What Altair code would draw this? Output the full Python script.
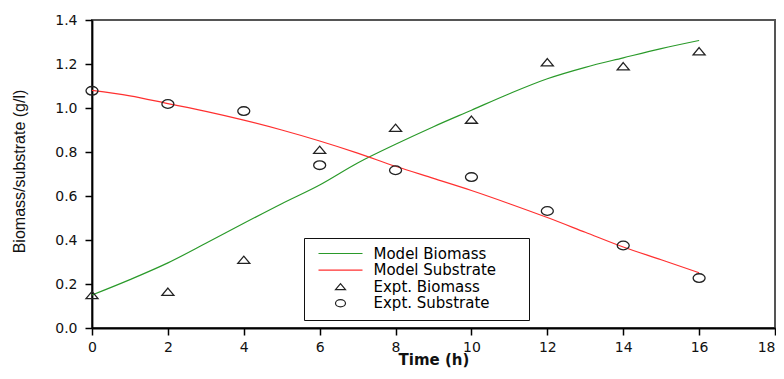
import altair as alt
import pandas as pd

# ---- data ----
t_model = list(range(17))
biomass_model = [0.15, 0.22, 0.296, 0.385, 0.476, 0.565, 0.65, 0.75, 0.835, 0.915,
                 0.99, 1.065, 1.133, 1.185, 1.228, 1.27, 1.307]
substrate_model = [1.08, 1.055, 1.02, 0.985, 0.945, 0.9, 0.85, 0.795, 0.735, 0.68,
                   0.625, 0.565, 0.502, 0.435, 0.368, 0.31, 0.251]

t_expt = [0, 2, 4, 6, 8, 10, 12, 14, 16]
biomass_expt = [0.15, 0.165, 0.31, 0.81, 0.91, 0.947, 1.208, 1.19, 1.258]
substrate_expt = [1.078, 1.018, 0.986, 0.74, 0.717, 0.686, 0.532, 0.375, 0.227]

series_names = ["Model Biomass", "Model Substrate", "Expt. Biomass", "Expt. Substrate"]
x_ticks = [0, 2, 4, 6, 8, 10, 12, 14, 16, 18]
y_ticks = [0.0, 0.2, 0.4, 0.6, 0.8, 1.0, 1.2, 1.4]

model_df = pd.DataFrame({
    "t": t_model + t_model,
    "v": biomass_model + substrate_model,
    "series": [series_names[0]] * len(t_model) + [series_names[1]] * len(t_model),
})
expt_df = pd.DataFrame({
    "t": t_expt + t_expt,
    "v": biomass_expt + substrate_expt,
    "series": [series_names[2]] * len(t_expt) + [series_names[3]] * len(t_expt),
})

colors = ["#2a9a2a", "#ff3030", "#222222", "#222222"]
shapes = [
    "M-4.4,0L4.4,0",
    "M-4.4,0L4.4,0",
    "M0,-0.6L1,0.6L-1,0.6Z",
    "M-1,0A1,0.72,0,1,0,1,0A1,0.72,0,1,0,-1,0Z",
]

color_scale = alt.Scale(domain=series_names, range=colors)
shape_scale = alt.Scale(domain=series_names, range=shapes)

x_enc = alt.X(
    "t:Q",
    scale=alt.Scale(domain=[0, 18], nice=False),
    axis=alt.Axis(
        values=x_ticks, format="d", title="Time (h)", labelFlush=False,
        labelAlign={"condition": {"test": "datum.value == 18", "value": "right"}, "value": "center"},
        titleFont="DejaVu Sans", titleFontSize=15, titleFontWeight="bold",
        titleY=31, titleBaseline="middle", titleColor="#111",
        labelPadding=5,
    ),
)
y_enc = alt.Y(
    "v:Q",
    scale=alt.Scale(domain=[0, 1.4], nice=False),
    axis=alt.Axis(
        values=y_ticks, format=".1f", title="Biomass/substrate (g/l)", labelFlush=False,
        titleFont="Liberation Sans", titleFontSize=16, titleFontWeight="normal",
        titleX=-73, titleY=151, titleAngle=270, titleAlign="center",
        titleBaseline="middle", titleColor="#111",
        labelPadding=8,
    ),
)

legend = alt.Legend(
    title=" ", orient="none", legendX=212, legendY=218,
    padding=8, strokeColor="#111", fillColor="white",
    symbolSize=100, symbolStrokeWidth=1.2, symbolOffset=21,
    labelOffset=25.5, labelFont="DejaVu Sans", labelFontSize=15,
    labelColor="black", rowPadding=0.6,
    titleOrient="right", titlePadding=25, titleFontSize=12,
)

line_biomass = alt.Chart(model_df).transform_filter(
    alt.datum.series == series_names[0]
).mark_line(strokeWidth=1.2, interpolate="monotone", color=colors[0]).encode(x=x_enc, y=y_enc)

line_substrate = alt.Chart(model_df).transform_filter(
    alt.datum.series == series_names[1]
).mark_line(strokeWidth=1.2, interpolate="monotone", color=colors[1]).encode(x=x_enc, y=y_enc)

points = alt.Chart(expt_df).mark_point(filled=False, size=144, strokeWidth=1.3, opacity=1).encode(
    x=x_enc, y=y_enc,
    color=alt.Color("series:N", scale=color_scale, legend=legend),
    shape=alt.Shape("series:N", scale=shape_scale, legend=legend),
)

chart = alt.layer(line_biomass, line_substrate, points).properties(
    width=683, height=308,
    autosize=alt.AutoSizeParams(type="none"),
    padding={"left": 84, "top": 12, "right": 1, "bottom": 43},
).configure_view(
    stroke="#555", strokeWidth=2,
).configure_axis(
    grid=False,
    domainColor="black", domainWidth=1.8,
    tickColor="black", tickWidth=1.5, tickSize=7,
    labelFont="DejaVu Sans", labelFontSize=14, labelColor="#111",
)

chart.save("out.html", embed_options={"renderer": "svg", "actions": False})
